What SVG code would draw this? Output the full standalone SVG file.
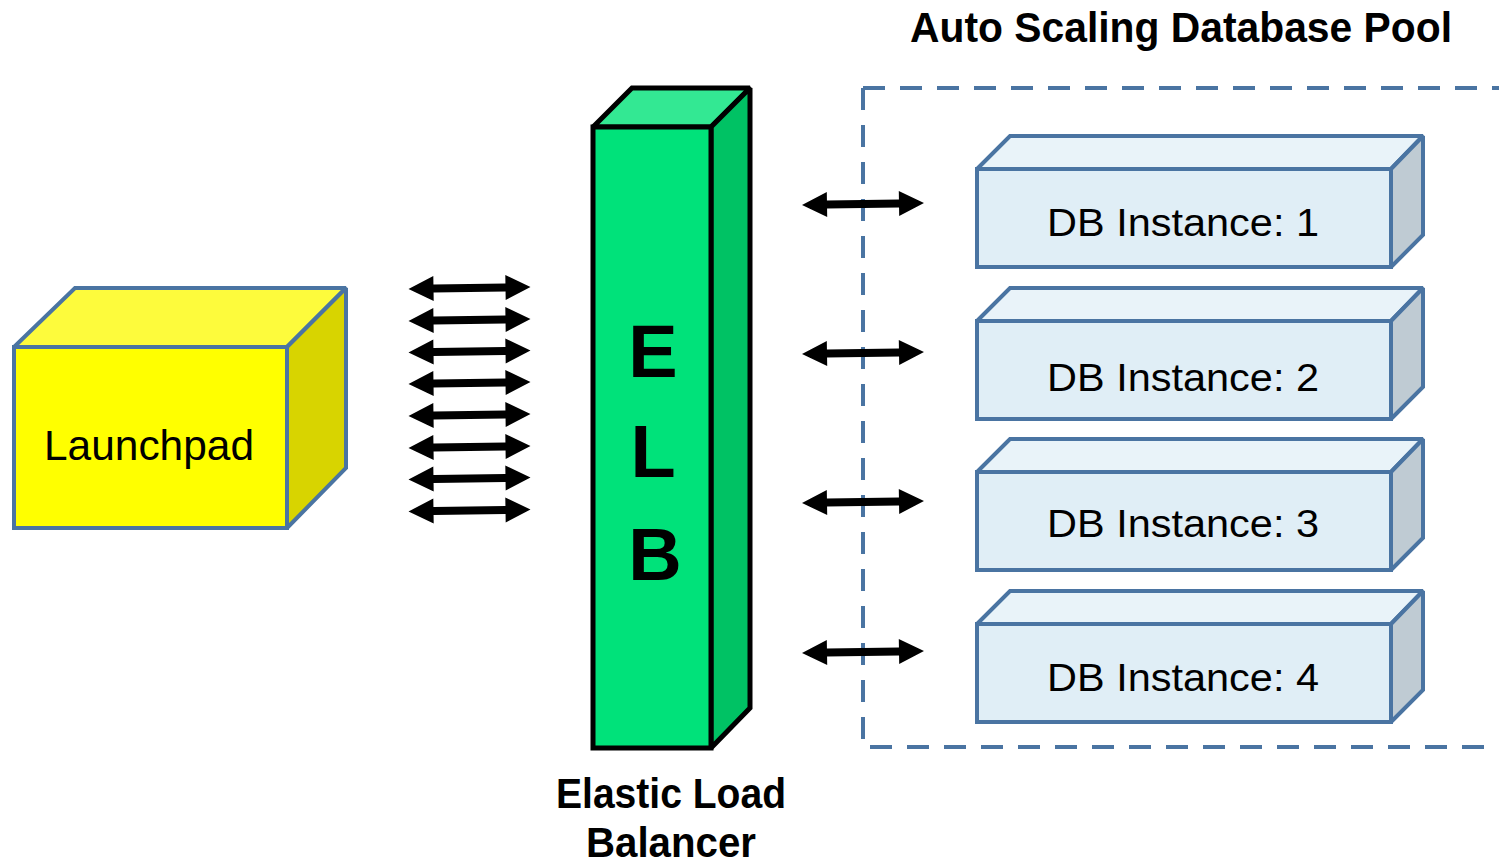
<svg xmlns="http://www.w3.org/2000/svg" xmlns:xlink="http://www.w3.org/1999/xlink" width="1499" height="865" viewBox="0 0 1499 865">
<style>
.blue{stroke:#4a74a2;stroke-width:4;stroke-linejoin:miter;stroke-miterlimit:2}
.dbf{fill:#e0eef6}
.dbt{fill:#e9f3f9}
.dbs{fill:#bfcbd3}
.dbtxt{font-family:"Liberation Sans",Arial,sans-serif;font-size:38px;fill:#000;text-anchor:middle}
.bold{font-family:"Liberation Sans",Arial,sans-serif;font-weight:bold;fill:#000;text-anchor:middle}
.elb{stroke:#000;stroke-width:5;stroke-linejoin:miter;stroke-miterlimit:2}
</style>
<defs>
<path id="arr" d="M-61,0 L-36,-12.5 L-36,-4 L36,-4 L36,-12.5 L61,0 L36,12.5 L36,4 L-36,4 L-36,12.5 Z" fill="#000"/>
</defs>
<rect width="1499" height="865" fill="#fff"/>

<g id="pool">
<path d="M863,88 H1510" fill="none" stroke="#4a74a2" stroke-width="4" stroke-dasharray="22,15"/>
<path d="M863,88 V747 H1510" fill="none" stroke="#4a74a2" stroke-width="4" stroke-dasharray="22,15"/>
<text class="bold" x="1181" y="42" font-size="42" textLength="542" lengthAdjust="spacingAndGlyphs">Auto Scaling Database Pool</text>
</g>

<g id="launchpad">
<polygon class="blue" points="14,347 75,288 346,288 287,347" fill="#fdfb3c"/>
<polygon class="blue" points="287,347 346,288 346,468 287,528" fill="#d8d400"/>
<rect class="blue" x="14" y="347" width="273" height="181" fill="#ffff00"/>
<text x="149" y="460" font-family="Liberation Sans,Arial,sans-serif" font-size="43" text-anchor="middle" fill="#000" textLength="210" lengthAdjust="spacingAndGlyphs">Launchpad</text>
</g>

<g id="elb">
<polygon class="elb" points="593,127 632,88 750,88 711,127" fill="#33e893"/>
<polygon class="elb" points="711,127 750,88 750,708 711,748" fill="#00c264"/>
<rect class="elb" x="593" y="127" width="118" height="621" fill="#00e27a"/>
<text class="bold" x="653" y="377" font-size="74">E</text>
<text class="bold" x="653" y="477" font-size="74">L</text>
<text class="bold" x="655" y="580" font-size="74">B</text>
<text class="bold" x="671" y="808" font-size="42" textLength="230" lengthAdjust="spacingAndGlyphs">Elastic Load</text>
<text class="bold" x="671" y="857" font-size="42" textLength="170" lengthAdjust="spacingAndGlyphs">Balancer</text>
</g>

<g id="db1">
<polygon class="blue dbt" points="977,169 1010,136 1423,136 1391,169"/>
<polygon class="blue dbs" points="1391,169 1423,136 1423,235 1391,267"/>
<rect class="blue dbf" x="977" y="169" width="414" height="98"/>
<text class="dbtxt" x="1183" y="236" textLength="272" lengthAdjust="spacingAndGlyphs">DB Instance: 1</text>
</g>
<g id="db2">
<polygon class="blue dbt" points="977,321 1010,288 1423,288 1391,321"/>
<polygon class="blue dbs" points="1391,321 1423,288 1423,387 1391,419"/>
<rect class="blue dbf" x="977" y="321" width="414" height="98"/>
<text class="dbtxt" x="1183" y="391" textLength="272" lengthAdjust="spacingAndGlyphs">DB Instance: 2</text>
</g>
<g id="db3">
<polygon class="blue dbt" points="977,472 1010,439 1423,439 1391,472"/>
<polygon class="blue dbs" points="1391,472 1423,439 1423,538 1391,570"/>
<rect class="blue dbf" x="977" y="472" width="414" height="98"/>
<text class="dbtxt" x="1183" y="537" textLength="272" lengthAdjust="spacingAndGlyphs">DB Instance: 3</text>
</g>
<g id="db4">
<polygon class="blue dbt" points="977,624 1010,591 1423,591 1391,624"/>
<polygon class="blue dbs" points="1391,624 1423,591 1423,690 1391,722"/>
<rect class="blue dbf" x="977" y="624" width="414" height="98"/>
<text class="dbtxt" x="1183" y="691" textLength="272" lengthAdjust="spacingAndGlyphs">DB Instance: 4</text>
</g>

<g id="connectors">
<use xlink:href="#arr" href="#arr" transform="translate(469.5,288) rotate(-0.9)"/>
<use xlink:href="#arr" href="#arr" transform="translate(469.5,320) rotate(-0.9)"/>
<use xlink:href="#arr" href="#arr" transform="translate(469.5,351.5) rotate(-0.9)"/>
<use xlink:href="#arr" href="#arr" transform="translate(469.5,383) rotate(-0.9)"/>
<use xlink:href="#arr" href="#arr" transform="translate(469.5,415) rotate(-0.9)"/>
<use xlink:href="#arr" href="#arr" transform="translate(469.5,447) rotate(-0.9)"/>
<use xlink:href="#arr" href="#arr" transform="translate(469.5,478.5) rotate(-0.9)"/>
<use xlink:href="#arr" href="#arr" transform="translate(469.5,510.5) rotate(-0.9)"/>
<use xlink:href="#arr" href="#arr" transform="translate(863,204) rotate(-0.9)"/>
<use xlink:href="#arr" href="#arr" transform="translate(863,353) rotate(-0.9)"/>
<use xlink:href="#arr" href="#arr" transform="translate(863,502) rotate(-0.9)"/>
<use xlink:href="#arr" href="#arr" transform="translate(863,652) rotate(-0.9)"/>
</g>
</svg>
